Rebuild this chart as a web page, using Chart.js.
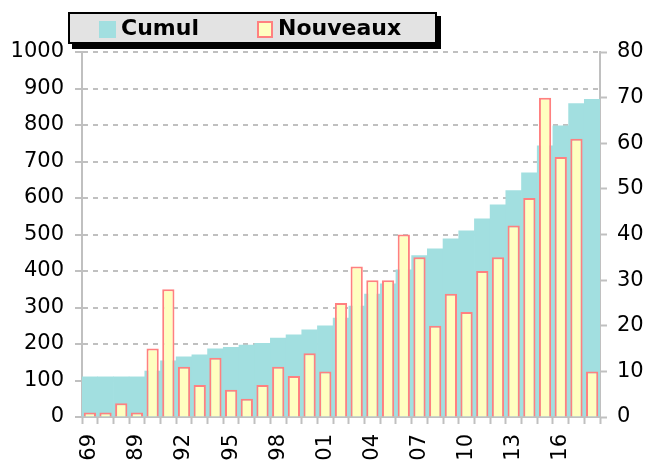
<!DOCTYPE html>
<html>
<head>
<meta charset="utf-8">
<script src="https://cdn.jsdelivr.net/npm/chart.js@4/dist/chart.umd.min.js"></script>
<style>
  html, body { margin: 0; padding: 0; background: #ffffff; }
  #wrap { width: 647px; height: 466px; position: relative; }
</style>
</head>
<body>
<div id="wrap"><canvas id="c" width="647" height="466"></canvas></div>
<script>
const categories = ['69','75','85','89','90','91','92','93','94','95','96','97','98','99','00','01','02','03','04','05','06','07','08','09','10','11','12','13','14','15','16','17','18'];
const cumul = [110,110,110,110,126,154,165,170,187,191,197,202,216,225,239,250,271,304,337,365,403,442,461,488,510,543,581,620,669,743,798,859,870];
const nouveaux = [1,1,3,1,15,28,11,7,13,6,4,7,11,9,14,10,25,33,30,30,40,35,20,27,23,32,35,42,48,70,57,61,10];
const leftTicks = [0,1000,100];
const rightTicks = [0,80,10];
const seriesNames = ['Cumul','Nouveaux'];

const FONT = 'DejaVu Sans';
const GRID = '#c0c0c0';

const legendPlugin = {
  id: 'boxLegend',
  afterDraw(chart) {
    const ctx = chart.ctx;
    ctx.save();
    ctx.fillStyle = '#000';
    ctx.fillRect(72, 16, 369, 33);
    ctx.fillStyle = '#e3e3e3';
    ctx.fillRect(68, 12, 369, 32);
    ctx.lineWidth = 2;
    ctx.strokeStyle = '#000';
    ctx.strokeRect(69, 13, 367, 30);
    const ds = chart.data.datasets;
    ctx.fillStyle = ds[0].backgroundColor;
    ctx.fillRect(99, 21, 17, 17);
    ctx.fillStyle = ds[1].backgroundColor;
    ctx.fillRect(257, 21, 16, 17);
    ctx.strokeStyle = ds[1].borderColor;
    ctx.lineWidth = 2;
    ctx.strokeRect(258, 22, 14, 15);
    ctx.fillStyle = '#000';
    ctx.font = 'bold 22px "' + FONT + '"';
    ctx.textBaseline = 'alphabetic';
    ctx.textAlign = 'left';
    ctx.fillText(ds[0].label, 121, 35);
    ctx.fillText(ds[1].label, 278, 35);
    ctx.restore();
  }
};

new Chart(document.getElementById('c'), {
  type: 'bar',
  data: {
    labels: categories,
    datasets: [
      {
        label: seriesNames[0],
        data: cumul,
        yAxisID: 'y',
        backgroundColor: '#a2dfe0',
        borderWidth: 0,
        barPercentage: 1.0,
        categoryPercentage: 1.0,
        grouped: false,
        order: 2
      },
      {
        label: seriesNames[1],
        data: nouveaux,
        yAxisID: 'y2',
        backgroundColor: '#ffffc0',
        borderColor: '#ff8080',
        borderWidth: 2,
        barPercentage: 0.78,
        categoryPercentage: 1.0,
        grouped: false,
        order: 1
      }
    ]
  },
  options: {
    responsive: false,
    animation: false,
    devicePixelRatio: 1,
    layout: { padding: { top: 52, left: 0, right: 0, bottom: 0 } },
    plugins: {
      legend: { display: false },
      tooltip: { enabled: false },
      title: { display: false }
    },
    scales: {
      x: {
        offset: true,
        afterFit(scale) { scale.height = 49; },
        grid: {
          offset: true,
          drawOnChartArea: false,
          drawTicks: true,
          tickLength: 7,
          tickColor: GRID,
          tickWidth: 2
        },
        border: { color: GRID, width: 2 },
        ticks: {
          autoSkip: false,
          maxRotation: 90,
          minRotation: 90,
          padding: 10,
          color: '#000',
          font: { family: FONT, size: 21 },
          callback: function(v, i) { return i % 3 === 0 ? categories[i] : ''; }
        }
      },
      y: {
        position: 'left',
        min: leftTicks[0],
        max: leftTicks[1],
        afterFit(scale) { scale.width = 82; },
        ticks: {
          stepSize: leftTicks[2],
          padding: 11,
          color: '#000',
          font: { family: FONT, size: 21 },
          callback: function(v) { return String(v); }
        },
        grid: {
          color: GRID,
          lineWidth: 2,
          drawTicks: true,
          tickLength: 7,
          tickColor: GRID,
          tickWidth: 2
        },
        border: { color: GRID, width: 2, dash: [5, 5] }
      },
      y2: {
        position: 'right',
        min: rightTicks[0],
        max: rightTicks[1],
        afterFit(scale) { scale.width = 47; },
        ticks: {
          stepSize: rightTicks[2],
          padding: 10,
          color: '#000',
          font: { family: FONT, size: 21 },
          callback: function(v) { return String(v); }
        },
        grid: {
          drawOnChartArea: false,
          drawTicks: true,
          tickLength: 7,
          tickColor: GRID,
          tickWidth: 2
        },
        border: { color: GRID, width: 2 }
      }
    }
  },
  plugins: [legendPlugin]
});
</script>
</body>
</html>
